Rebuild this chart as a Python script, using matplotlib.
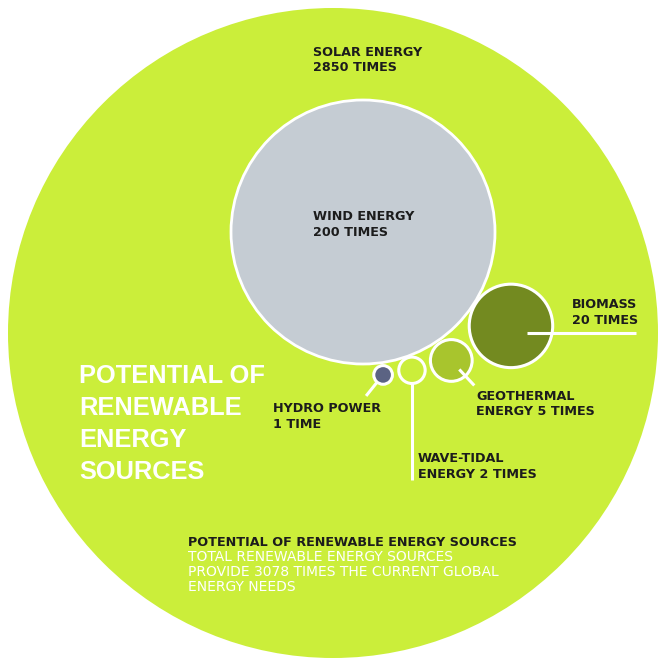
import numpy as np
import matplotlib
matplotlib.use('Agg')
from matplotlib import pyplot as plt
from matplotlib.patches import Circle

# data
sources = ['SOLAR ENERGY', 'WIND ENERGY', 'BIOMASS', 'GEOTHERMAL ENERGY', 'WAVE-TIDAL ENERGY', 'HYDRO POWER']
times = [2850, 200, 20, 5, 2, 1]
total_times = 3078

# layout (pixels)
W, H = 659, 658
solar_center = (333, 333)
solar_radius = 325
wind_center = (363, 232)
wind_radius = 132
small_angles = [-32.4, -55.5, -70.5, -82.0]   # around the wind circle (deg)
small_gaps = [1.5, 3.0, 1.5, 3.0]

colors = ['#cbee3a', '#c5ccd3', '#738a20', '#a8c52d', '#cbee3a', '#5b6383']
TXT = '#1c1c1c'
SANS = ['DejaVu Sans']

fig = plt.figure(figsize=(W / 100, H / 100), dpi=100)
ax = fig.add_axes([0, 0, 1, 1])
ax.set_xlim(0, W)
ax.set_ylim(H, 0)
ax.set_aspect('equal')
ax.axis('off')

ax.add_patch(Circle(solar_center, solar_radius, facecolor=colors[0], edgecolor='none'))
ax.add_patch(Circle(wind_center, wind_radius, facecolor=colors[1], edgecolor='white', lw=2))

# smaller circles: area proportional to the wind circle
centers = []
for i, v in enumerate(times[2:]):
    r = wind_radius * np.sqrt(v / times[1])
    d = wind_radius + r + small_gaps[i]
    a = np.radians(small_angles[i])
    c = (wind_center[0] + d * np.cos(a), wind_center[1] - d * np.sin(a))
    centers.append((c, r))
    ax.add_patch(Circle(c, r, facecolor=colors[i + 2], edgecolor='white', lw=2.2, zorder=3))

# leader lines
(cb, rb), (cg, rg), (cw, rw), (ch, rh) = centers
ax.plot([cb[0] + 16, 636], [cb[1] + 7, cb[1] + 7], color='white', lw=2.2, zorder=4, solid_capstyle='butt')
ax.plot([cg[0] + 8, cg[0] + 23], [cg[1] + 9, cg[1] + 25], color='white', lw=2.2, zorder=4, solid_capstyle='butt')
ax.plot([cw[0], cw[0]], [cw[1] + 7, 480], color='white', lw=2.2, zorder=2, solid_capstyle='butt')
ax.plot([ch[0] - 1, ch[0] - 17], [ch[1] + 1, ch[1] + 21], color='white', lw=2.2, zorder=2, solid_capstyle='butt')

def label(x, y, lines, color=TXT, size=9.2, gap=15.5, weight='bold'):
    for k, s in enumerate(lines):
        ax.text(x, y + k * gap, s, color=color, fontsize=size, family=SANS,
                fontweight=weight, ha='left', va='center')

label(313, 52, ['SOLAR ENERGY', '%d TIMES' % times[0]])
label(313, 217, ['WIND ENERGY', '%d TIMES' % times[1]])
label(572, 305, ['BIOMASS', '%d TIMES' % times[2]])
label(476, 396, ['GEOTHERMAL', 'ENERGY %d TIMES' % times[3]])
label(418, 459, ['WAVE-TIDAL', 'ENERGY %d TIMES' % times[4]])
label(273, 409, ['HYDRO POWER', '%d TIME' % times[5]])

# big title
for k, s in enumerate(['POTENTIAL OF', 'RENEWABLE', 'ENERGY', 'SOURCES']):
    ax.text(79, 376 + k * 32, s, color='white', fontsize=18.3, fontweight='bold',
            family=['Liberation Sans', 'DejaVu Sans'], ha='left', va='center')

label(188, 543, ['POTENTIAL OF RENEWABLE ENERGY SOURCES'])
label(188, 557, ['TOTAL RENEWABLE ENERGY SOURCES',
                 'PROVIDE %d TIMES THE CURRENT GLOBAL' % total_times,
                 'ENERGY NEEDS'], color='white', gap=15, size=10, weight='normal')

plt.savefig('out.png', dpi=100, facecolor='white')
